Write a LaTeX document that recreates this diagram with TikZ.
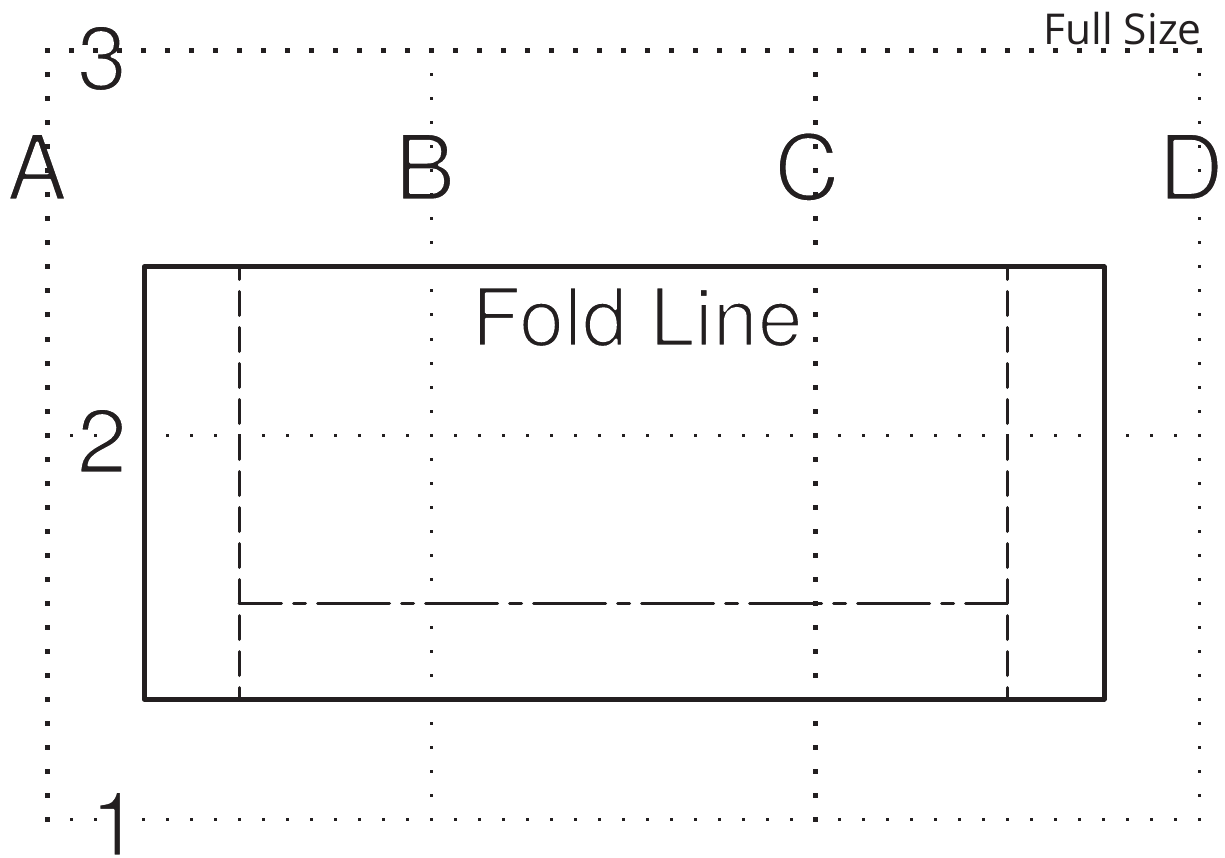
\documentclass[tikz,border=0pt]{standalone}
\usepackage{fontspec}
\setmainfont{TeX Gyre Heros}
\newfontfamily\myriadfont{Open Sans}
\definecolor{ink}{RGB}{35,31,32}
\newcommand{\thintext}[1]{\special{pdf:code q 2 Tr 1 1 1 RG 2.6 w 1 j}#1\special{pdf:code Q}}
\tikzset{
  x=1pt,y=-1pt,
  bigtext/.style={text=ink,inner sep=0pt,anchor=base,font=\fontsize{91}{91}\selectfont},
  foldtext/.style={text=ink,inner sep=0pt,anchor=base,font=\fontsize{81}{81}\selectfont},
  fold/.style={draw=ink,line width=3pt,line cap=round,dash pattern=on 24pt off 12pt,dash phase=11.5pt},
  foldlong/.style={draw=ink,line width=3pt,line cap=round,dash pattern=on 72pt off 12pt on 12pt off 12pt,dash phase=29.5pt},
  cutline/.style={draw=ink,line width=5pt,line join=round}
}
\newcommand{\thickdot}[2]{\fill[ink] (#1-2.5,#2-2.5) rectangle (#1+2.5,#2+2.5);}
\newcommand{\thindot}[2]{\fill[ink] (#1-1.5,#2-1.5) rectangle (#1+1.5,#2+1.5);}
\begin{document}
\begin{tikzpicture}
\useasboundingbox (0,0) rectangle (1225,858);
\fill[white] (0,0) rectangle (1225,858);
\node[bigtext] (a) at (37,200) {\thintext{A}};
\node[bigtext] (b) at (425,200) {\thintext{B}};
\node[bigtext] (c) at (807,200) {\thintext{C}};
\node[bigtext] (d) at (1191,200) {\thintext{D}};
\node[bigtext] (n3) at (102,90) {\thintext{3}};
\node[bigtext] (n2) at (102,473) {\thintext{2}};
\node[bigtext] (n1) at (115,856) {\thintext{1}};
\node[foldtext] (fold) at (637,346) {\thintext{Fold Line}};
\node[text=ink,inner sep=0pt,anchor=base east,font=\myriadfont\fontsize{42.5}{42.5}\selectfont] (full) at (1202,45) {Full Size};
\draw[cutline] (144,267) rectangle (1104,699);
\draw[fold] (239,267) -- (239,699);
\draw[fold] (1007,267) -- (1007,699);
\draw[foldlong] (239,603) -- (1007,603);
\foreach \k in {0,...,48}{
  \pgfmathsetmacro\p{47+24*\k}
  \thickdot{\p}{51}
  \ifnum\k=3\relax\else\ifnum\k=4\relax\else\ifnum\k=44\relax\else\thindot{\p}{435}\fi\fi\fi
  \ifnum\k=3\relax\else\thindot{\p}{819}\fi
}
\thickdot{47}{435}
\thickdot{47}{819}
\thickdot{815}{435}
\thickdot{815}{819}
\foreach \k in {1,...,32}{
  \pgfmathsetmacro\q{51+24*\k}
  \thickdot{47}{\q}
  \thickdot{815}{\q}
  \thindot{431}{\q}
  \thindot{1199}{\q}
}
\end{tikzpicture}
\end{document}
